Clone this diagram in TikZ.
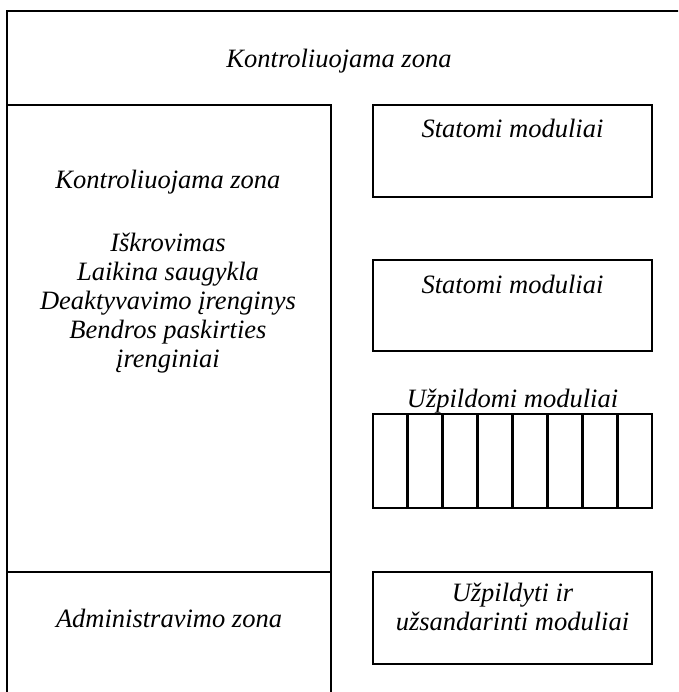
\documentclass[tikz,border=0pt]{standalone}
\usepackage{fontspec}
\setmainfont{Liberation Serif}
\usetikzlibrary{positioning}

\tikzset{
  zone/.style={line width=2.8pt},
  lbl/.style={font=\fontsize{26.5}{29}\selectfont\itshape, inner sep=0pt, anchor=base, align=center},
}

\begin{document}
\begin{tikzpicture}[x=1pt,y=-1pt]
  \useasboundingbox (0,0) rectangle (678,692);
  \clip (0,0) rectangle (678,692);
  % zones
  \draw[zone] (7,700) -- (7,11) -- (690,11);
  \draw[zone] (7,105) -- (331,105) -- (331,700);
  \draw[zone] (7,572) -- (331,572);
  % modules
  \draw[zone] (373,105) rectangle (652,197);
  \draw[zone] (373,260) rectangle (652,351);
  \draw[zone] (373,414) rectangle (652,508);
  \foreach \i in {1,...,7}
    \draw[zone] ({373+\i*34.875},414) -- ({373+\i*34.875},508);
  \draw[zone] (373,572) rectangle (652,664);
  % labels (base = last line)
  \node[lbl] (ktop) at (339,68) {Kontroliuojama zona};
  \node[lbl] (kleft) at (168,189) {Kontroliuojama zona};
  \node[lbl] (veikla) at (168,367) {Iškrovimas\\Laikina saugykla\\Deaktyvavimo įrenginys\\Bendros paskirties\\įrenginiai};
  \node[lbl] (admin) at (169,627) {Administravimo zona};
  \node[lbl] (stat1) at (512.5,138) {Statomi moduliai};
  \node[lbl] (stat2) at (512.5,293) {Statomi moduliai};
  \node[lbl] (uzp) at (512.5,407) {Užpildomi moduliai};
  \node[lbl] (sand) at (512.5,630) {Užpildyti ir\\užsandarinti moduliai};
\end{tikzpicture}
\end{document}
